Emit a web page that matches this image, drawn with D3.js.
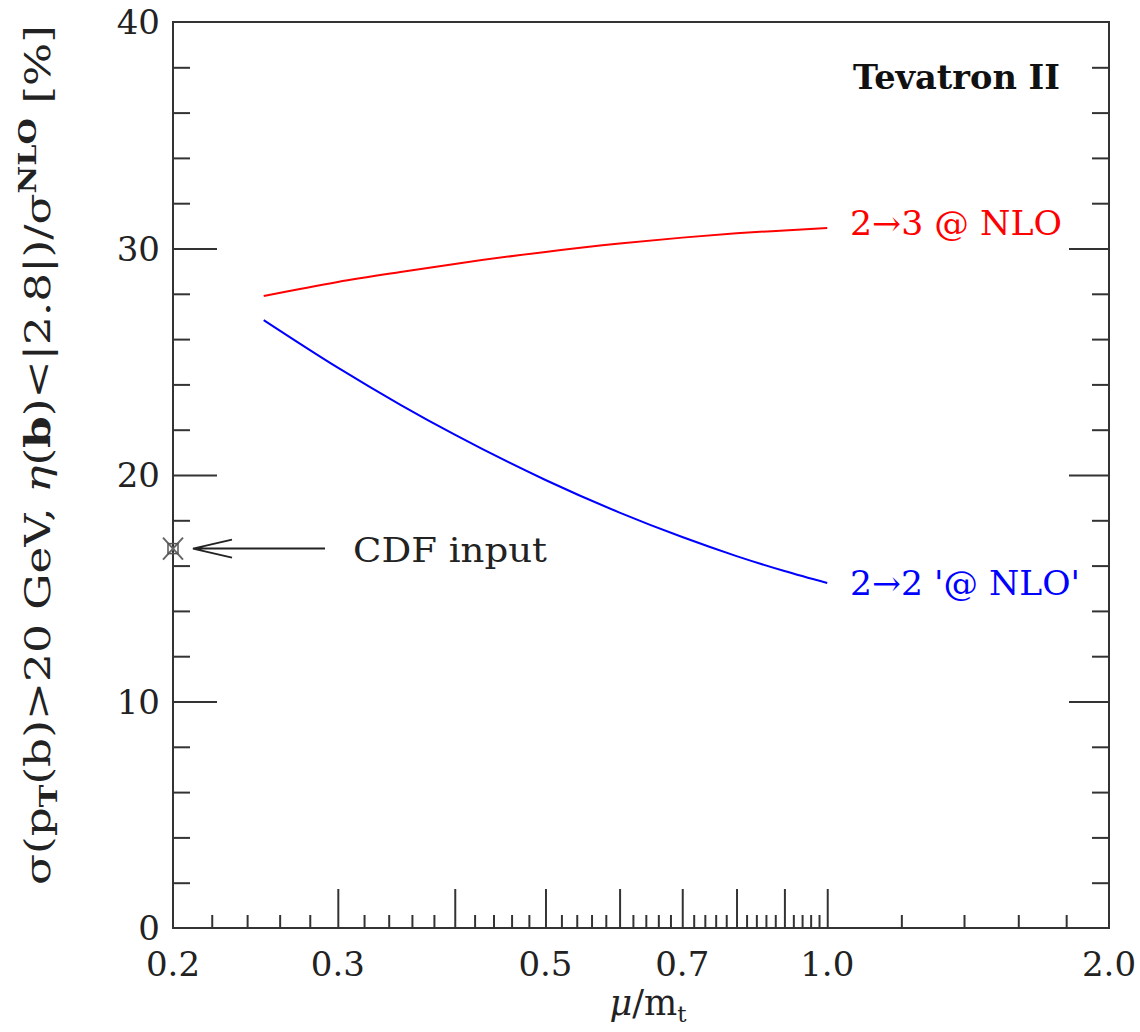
<!DOCTYPE html>
<html lang="en">
<head>
    <meta charset="UTF-8">
    <title>Tevatron II - b tagging fraction vs scale</title>
    <script src="https://d3js.org/d3.v7.min.js"></script>
    <style>
        body {
            margin: 0;
            background: #fff;
        }
        .tick-label {
            font-family: "DejaVu Serif", serif;
            font-size: 34px;
            fill: #222;
        }
        .tt-label {
            font-family: "DejaVu Serif", serif;
            font-size: 34px;
        }
        .frame {
            fill: none;
            stroke: #333;
            stroke-width: 2;
        }
        .ticks path.domain {
            display: none;
        }
        .ticks line {
            stroke: #333;
            stroke-width: 2;
        }
    </style>
</head>
<body>
    <svg id="chart" width="1140" height="1032"></svg>

    <script>
        // scale mu/m_t and the two curves
        const muValues = [0.25, 0.3, 0.35, 0.4, 0.5, 0.6, 0.7, 0.8, 0.9, 1.0];
        const nlo23 = [27.9, 28.52, 28.96, 29.32, 29.85, 30.22, 30.48, 30.67, 30.8, 30.91];
        const nlo22 = [26.84, 24.74, 23.1, 21.78, 19.78, 18.34, 17.26, 16.42, 15.76, 15.23];

        // CDF input point
        const cdfMu = 0.2;
        const cdfValue = 16.75;

        const xLabels = [0.2, 0.3, 0.5, 0.7, 1.0, 2.0];
        const xMajor = [0.3, 0.4, 0.5, 0.6, 0.7, 0.8, 0.9, 1.0];
        const xMinor = d3.range(11, 50).filter(i => i % 5 !== 0).map(i => i / 50).concat([1.2, 1.4, 1.6, 1.8]);
        const yLabels = [0, 10, 20, 30, 40];
        const yMajor = [10, 20, 30];
        const yMinor = d3.range(2, 40, 2).filter(v => v % 10 !== 0);

        const margin = {top: 22, left: 173},
              width = 936,
              height = 906;

        const svg = d3.select("#chart");
        const g = svg.append("g")
            .attr("transform", `translate(${margin.left},${margin.top})`);

        const x = d3.scaleLog().domain([0.2, 2.0]).range([0, width]);
        const y = d3.scaleLinear().domain([0, 40]).range([height, 0]);

        // inward ticks on bottom, left and right
        const tickAxes = [
            [d3.axisBottom(x).tickValues(xMajor).tickSize(-39), `translate(0,${height})`],
            [d3.axisBottom(x).tickValues(xMinor).tickSize(-13), `translate(0,${height})`],
            [d3.axisLeft(y).tickValues(yMajor).tickSize(-44), null],
            [d3.axisLeft(y).tickValues(yMinor).tickSize(-17), null],
            [d3.axisRight(y).tickValues(yMajor).tickSize(-40), `translate(${width},0)`],
            [d3.axisRight(y).tickValues(yMinor).tickSize(-17), `translate(${width},0)`]
        ];
        tickAxes.forEach(([axis, tr]) => {
            const a = g.append("g").attr("class", "ticks")
                .call(axis.tickSizeOuter(0).tickFormat(""));
            if (tr) a.attr("transform", tr);
        });

        g.append("rect")
            .attr("class", "frame")
            .attr("x", 0).attr("y", 0)
            .attr("width", width).attr("height", height);

        // tick labels
        g.selectAll(".xlab")
            .data(xLabels)
            .enter()
            .append("text")
            .attr("class", "tick-label")
            .attr("x", d => x(d))
            .attr("y", height + 48)
            .attr("text-anchor", "middle")
            .text(d => d.toFixed(1));

        g.selectAll(".ylab")
            .data(yLabels)
            .enter()
            .append("text")
            .attr("class", "tick-label")
            .attr("x", -13)
            .attr("y", d => y(d))
            .attr("dy", "0.36em")
            .attr("text-anchor", "end")
            .text(d => d);

        // curves
        const line = d3.line()
            .x(d => x(d[0]))
            .y(d => y(d[1]))
            .curve(d3.curveMonotoneX);

        g.append("path")
            .datum(d3.zip(muValues, nlo23))
            .attr("d", line)
            .attr("fill", "none")
            .attr("stroke", "#ff0000")
            .attr("stroke-width", 2);

        g.append("path")
            .datum(d3.zip(muValues, nlo22))
            .attr("d", line)
            .attr("fill", "none")
            .attr("stroke", "#0000ff")
            .attr("stroke-width", 2);

        // CDF marker: cross with small box
        const cx = x(cdfMu), cy = y(cdfValue);
        g.append("path")
            .attr("d", `M${cx - 10},${cy - 11}L${cx + 10},${cy + 11}M${cx - 10},${cy + 11}L${cx + 10},${cy - 11}`)
            .attr("stroke", "#666")
            .attr("stroke-width", 2)
            .attr("fill", "none");
        g.append("rect")
            .attr("x", cx - 5).attr("y", cy - 5)
            .attr("width", 10).attr("height", 10)
            .attr("fill", "none")
            .attr("stroke", "#555")
            .attr("stroke-width", 1.5);

        // arrow pointing at the CDF point
        const tip = cx + 20;
        g.append("path")
            .attr("d", `M${tip},${cy}L${tip + 132},${cy}M${tip + 39},${cy - 9}L${tip},${cy}L${tip + 39},${cy + 9}`)
            .attr("stroke", "#222")
            .attr("stroke-width", 2)
            .attr("fill", "none");

        g.append("text")
            .attr("class", "tick-label")
            .attr("x", 180)
            .attr("y", cy + 13)
            .attr("textLength", 194)
            .attr("lengthAdjust", "spacingAndGlyphs")
            .text("CDF input");

        // annotations
        g.append("text")
            .attr("class", "tt-label")
            .attr("x", 680).attr("y", 67)
            .attr("fill", "#111")
            .attr("font-weight", "bold")
            .attr("textLength", 207)
            .attr("lengthAdjust", "spacingAndGlyphs")
            .text("Tevatron II");

        g.append("text")
            .attr("class", "tt-label")
            .attr("x", 677).attr("y", 213)
            .attr("fill", "#ff0000")
            .attr("textLength", 212)
            .attr("lengthAdjust", "spacingAndGlyphs")
            .text("2→3 @ NLO");

        g.append("text")
            .attr("class", "tt-label")
            .attr("x", 677).attr("y", 573)
            .attr("fill", "#0000ff")
            .attr("textLength", 230)
            .attr("lengthAdjust", "spacingAndGlyphs")
            .text("2→2 '@ NLO'");

        // axis titles
        const xt = svg.append("text")
            .attr("class", "tick-label")
            .attr("x", 648)
            .attr("y", 1015)
            .attr("text-anchor", "middle")
            .style("font-size", "35px");
        xt.append("tspan").attr("font-style", "italic").text("μ");
        xt.append("tspan").text("/m");
        xt.append("tspan").attr("dy", 7).style("font-size", "23px").text("t");

        const yt = svg.append("text")
            .attr("class", "tick-label")
            .attr("transform", "translate(50,455) rotate(-90)")
            .attr("text-anchor", "middle")
            .attr("textLength", 860)
            .attr("lengthAdjust", "spacingAndGlyphs")
            .style("font-size", "36px");
        yt.append("tspan").text("σ(p");
        yt.append("tspan").attr("dy", 7).style("font-size", "24px").attr("font-weight", "bold").text("T");
        yt.append("tspan").attr("dy", -7).text("(b)>20  GeV,  ");
        yt.append("tspan").attr("font-style", "italic").text("η");
        yt.append("tspan").text("(");
        yt.append("tspan").attr("font-weight", "bold").text("b");
        yt.append("tspan").text(")<|2.8|)/σ");
        yt.append("tspan").attr("dy", -14).style("font-size", "24px").attr("font-weight", "bold").text("NLO");
        yt.append("tspan").attr("dy", 14).text("  [%]");
    </script>
</body>
</html>
